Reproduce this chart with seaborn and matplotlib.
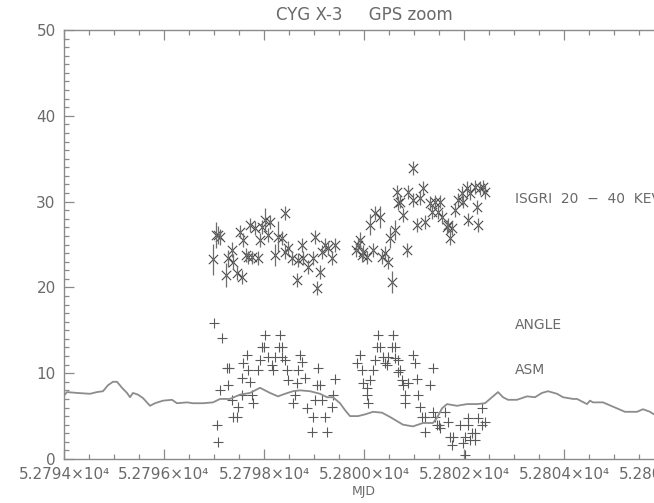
import numpy as np
import pandas as pd
import matplotlib
matplotlib.use("Agg")
import matplotlib.pyplot as plt
from matplotlib.ticker import MultipleLocator, FuncFormatter
import seaborn as sns

# ISGRI 20-40 keV rate (MJD, value, 1-sigma error)
isgri_mjd = [52796.98, 52797.04, 52797.08, 52797.12, 52797.24, 52797.28, 52797.36, 52797.38,
             52797.46, 52797.56, 52797.52, 52797.58, 52797.64, 52797.68, 52797.72, 52797.76,
             52797.82, 52797.88, 52797.92, 52797.96, 52798.02, 52798.08, 52798.12, 52798.22,
             52798.28, 52798.36, 52798.42, 52798.42, 52798.48, 52798.56, 52798.66, 52798.68,
             52798.76, 52798.78, 52798.88, 52798.98, 52799.02, 52799.06, 52799.12, 52799.16,
             52799.22, 52799.28, 52799.36, 52799.42,
             52799.84, 52799.88, 52799.92, 52799.96, 52799.98, 52800.06, 52800.12, 52800.18,
             52800.22, 52800.32, 52800.36, 52800.42, 52800.48, 52800.52, 52800.56, 52800.62,
             52800.66, 52800.68, 52800.72, 52800.78, 52800.86, 52800.88, 52800.98, 52800.98,
             52801.06, 52801.12, 52801.18, 52801.22, 52801.32, 52801.36, 52801.42, 52801.48,
             52801.52, 52801.56, 52801.66, 52801.68, 52801.72, 52801.76, 52801.82, 52801.88,
             52801.96, 52801.98, 52802.06, 52802.08, 52802.12, 52802.22, 52802.26, 52802.28,
             52802.32, 52802.38, 52802.42]
isgri_val = [23.3, 26.1, 26.1, 25.9, 21.4, 23.4, 24.4, 23.0,
             21.7, 21.2, 26.5, 25.5, 23.8, 23.5, 27.3, 23.5,
             26.9, 23.4, 25.5, 27.0, 27.9, 26.1, 27.6, 23.8,
             25.9, 25.8, 28.7, 24.1, 24.6, 23.4, 20.9, 23.2,
             24.9, 23.4, 22.4, 23.4, 25.9, 19.9, 21.8, 24.1,
             24.9, 24.6, 23.4, 24.9,
             24.4, 24.9, 25.5, 23.8, 24.1, 23.5, 27.3, 24.4,
             28.7, 28.2, 23.5, 24.0, 23.0, 25.8, 20.6, 26.7,
             31.1, 29.8, 30.0, 28.4, 24.4, 31.1, 30.2, 33.9,
             27.3, 30.4, 31.6, 27.6, 29.8, 28.8, 30.0, 28.8,
             30.0, 28.2, 27.0, 27.3, 25.8, 26.9, 29.0, 30.2,
             31.0, 30.0, 31.6, 27.9, 31.0, 31.7, 29.4, 27.3,
             31.6, 31.7, 31.1]
isgri_err = [1.8, 1.5, 1.0, 0.9, 1.4, 1.0, 0.9, 0.9,
             0.8, 0.8, 0.8, 0.8, 0.8, 0.8, 0.8, 0.8,
             0.8, 0.8, 0.8, 0.8, 1.3, 0.8, 0.8, 1.3,
             1.8, 0.8, 0.8, 0.8, 0.8, 0.8, 0.8, 0.8,
             0.8, 0.8, 0.8, 0.8, 0.8, 0.8, 0.8, 0.8,
             0.8, 0.8, 0.8, 0.8,
             0.8, 0.8, 1.0, 0.8, 0.8, 0.8, 1.2, 0.8,
             0.8, 1.3, 0.8, 0.8, 0.8, 1.2, 1.3, 1.2,
             0.8, 0.8, 0.8, 0.8, 0.8, 0.8, 0.8, 0.8,
             0.8, 0.8, 0.8, 0.8, 0.8, 0.8, 0.8, 0.8,
             0.8, 0.8, 0.8, 0.8, 0.8, 0.8, 0.8, 0.8,
             0.8, 0.8, 0.8, 0.8, 0.8, 0.8, 0.8, 0.8,
             0.8, 0.8, 0.8]

# Position angle samples
angle_mjd = [52797.00, 52797.16, 52797.26, 52797.30, 52797.12, 52797.28, 52797.06, 52797.08,
             52797.36, 52797.38, 52797.46, 52797.48, 52797.56, 52797.56, 52797.58, 52797.66,
             52797.68, 52797.72, 52797.76, 52797.78, 52797.88, 52797.92, 52797.96, 52798.00,
             52798.02, 52798.08, 52798.16, 52798.18, 52798.22, 52798.32, 52798.30, 52798.36,
             52798.36, 52798.42, 52798.46, 52798.48, 52798.58, 52798.62, 52798.66, 52798.68,
             52798.72, 52798.76, 52798.82, 52798.86, 52798.98, 52799.02, 52798.96, 52799.08,
             52799.06, 52799.12, 52799.16, 52799.22, 52799.26, 52799.36, 52799.38, 52799.42,
             52799.86, 52799.92, 52799.96, 52799.98, 52800.06, 52800.06, 52800.08, 52800.12,
             52800.18, 52800.22, 52800.28, 52800.26, 52800.32, 52800.38, 52800.42, 52800.48,
             52800.58, 52800.56, 52800.62, 52800.62, 52800.68, 52800.46, 52800.68, 52800.72,
             52800.76, 52800.78, 52800.82, 52800.82, 52800.88, 52800.98, 52801.02, 52801.06,
             52801.08, 52801.12, 52801.16, 52801.22, 52801.22, 52801.32, 52801.38, 52801.38,
             52801.42, 52801.46, 52801.50, 52801.52, 52801.62, 52801.68, 52801.72, 52801.78,
             52801.76, 52801.92, 52801.98, 52802.02, 52802.02, 52802.08, 52802.08, 52802.12,
             52802.16, 52802.22, 52802.22, 52802.28, 52802.36, 52802.36, 52802.42]
angle_val = [15.9, 14.1, 10.6, 10.6, 8.0, 8.6, 4.0, 2.0,
             6.9, 4.9, 4.9, 6.1, 7.5, 9.4, 11.2, 12.1,
             10.4, 9.0, 7.5, 6.5, 10.4, 11.5, 13.1, 13.1,
             14.5, 11.9, 11.0, 10.4, 11.9, 14.5, 13.1, 13.1,
             11.9, 11.5, 10.4, 9.2, 6.5, 7.5, 8.9, 10.4,
             12.1, 11.3, 9.4, 5.9, 4.9, 6.9, 3.1, 10.6,
             8.6, 8.6, 6.9, 4.9, 3.1, 6.1, 7.5, 9.3,
             11.2, 12.1, 10.4, 8.9, 8.3, 7.5, 6.5, 9.2,
             10.4, 11.5, 14.5, 13.1, 13.1, 11.9, 11.2, 11.9,
             14.5, 13.1, 13.1, 11.8, 10.1, 11.0, 11.5, 10.4,
             9.2, 8.6, 7.5, 6.5, 8.9, 12.1, 11.2, 9.3,
             7.5, 6.1, 4.9, 4.9, 3.1, 8.6, 10.6, 5.5,
             4.9, 4.0, 4.0, 3.6, 5.5, 4.3, 2.6, 2.6,
             1.6, 4.0, 1.9, 0.5, 2.6, 4.8, 4.0, 2.2,
             3.0, 3.0, 2.2, 4.8, 5.9, 4.0, 4.3]

# RXTE/ASM light curve
asm_mjd = [52794.00, 52794.06, 52794.26, 52794.52, 52794.66, 52794.78, 52794.88, 52794.98,
           52795.06, 52795.16, 52795.26, 52795.32, 52795.38, 52795.48, 52795.58, 52795.72,
           52795.82, 52795.98, 52796.16, 52796.26, 52796.46, 52796.58, 52796.78, 52796.98,
           52797.12, 52797.32, 52797.52, 52797.72, 52797.92, 52798.12, 52798.28, 52798.42,
           52798.58, 52798.72, 52798.92, 52799.12, 52799.26, 52799.38, 52799.52, 52799.62,
           52799.72, 52799.88, 52800.02, 52800.18, 52800.36, 52800.52, 52800.78, 52800.98,
           52801.18, 52801.38, 52801.46, 52801.56, 52801.66, 52801.86, 52802.06, 52802.26,
           52802.42, 52802.56, 52802.68, 52802.78, 52802.88, 52803.06, 52803.26, 52803.42,
           52803.56, 52803.68, 52803.86, 52803.98, 52804.18, 52804.26, 52804.46, 52804.52,
           52804.58, 52804.78, 52804.98, 52805.22, 52805.46, 52805.58, 52805.72, 52805.80,
           52806.00]
asm_val = [7.4, 7.8, 7.7, 7.6, 7.8, 7.9, 8.6, 9.0,
           9.0, 8.3, 7.7, 7.2, 7.7, 7.5, 7.1, 6.2,
           6.5, 6.8, 6.9, 6.5, 6.6, 6.5, 6.5, 6.6,
           7.0, 7.0, 7.5, 7.7, 8.3, 7.7, 7.3, 7.6,
           7.9, 8.0, 7.9, 7.6, 7.2, 7.2, 6.5, 5.7,
           5.0, 5.0, 5.2, 5.5, 5.4, 4.9, 4.0, 3.8,
           4.2, 4.2, 4.8, 5.9, 6.4, 6.2, 6.4, 6.4,
           6.5, 7.2, 7.8, 7.2, 6.9, 6.9, 7.3, 7.2,
           7.7, 7.9, 7.6, 7.2, 7.0, 7.0, 6.4, 6.8,
           6.6, 6.6, 6.1, 5.5, 5.5, 5.8, 5.5, 5.2,
           5.0]

series_labels = ["ISGRI  20  \u2212  40  KEV", "ANGLE", "ASM"]
title_text = "CYG X-3     GPS zoom"
x_label = "MJD"

isgri = pd.DataFrame({"mjd": isgri_mjd, "val": isgri_val, "err": isgri_err})
angle = pd.DataFrame({"mjd": angle_mjd, "val": angle_val})
asm = pd.DataFrame({"mjd": asm_mjd, "val": asm_val})

sns.set_theme(style="ticks")
plt.rcParams["font.family"] = ["DejaVu Sans"]

TEXT = "#6a6a6a"
AXC = "#8a8a8a"

fig = plt.figure(figsize=(6.54, 5.03), dpi=100)
# the plot box runs a little past the right edge of the canvas
ax = fig.add_axes([64 / 654, 44 / 503, 600 / 654, 429 / 503])

# ASM curve
sns.lineplot(data=asm, x="mjd", y="val", ax=ax, color="#8c8c8c", linewidth=1.3,
             estimator=None, sort=False)

# angle samples
sns.scatterplot(data=angle, x="mjd", y="val", ax=ax, marker="+", s=55,
                color="#5a5a5a", linewidth=0.8)

# ISGRI points with vertical error bars
ax.errorbar(isgri["mjd"], isgri["val"], yerr=isgri["err"], fmt="none",
            ecolor="#6e6e6e", elinewidth=0.9, capsize=0)
sns.scatterplot(data=isgri, x="mjd", y="val", ax=ax, marker="x", s=45,
                color="#4a4a4a", linewidth=0.8)

ax.set_xlim(52794, 52806)
ax.set_ylim(0, 50)

ax.xaxis.set_major_locator(MultipleLocator(2))
ax.xaxis.set_minor_locator(MultipleLocator(0.5))
ax.yaxis.set_major_locator(MultipleLocator(10))
ax.yaxis.set_minor_locator(MultipleLocator(1))
ax.xaxis.set_major_formatter(FuncFormatter(lambda v, p: f"{v / 1e4:.4f}\u00d710\u2074"))
ax.yaxis.set_major_formatter(FuncFormatter(lambda v, p: f"{v:.0f}"))

ax.tick_params(which="both", direction="in", top=True, right=True,
               color=AXC, width=0.9, labelcolor=TEXT, labelsize=11)
ax.tick_params(which="major", length=7, pad=6)
ax.tick_params(which="minor", length=3.5)
for sp in ax.spines.values():
    sp.set_color(AXC)
    sp.set_linewidth(1.0)

ax.set_xlabel(x_label, color=TEXT, fontsize=9, labelpad=2)
ax.set_ylabel("")
ax.set_title(title_text, color=TEXT, fontsize=12, pad=7)

label_x = 52803.02
for txt, yv in zip(series_labels, [30.3, 15.6, 10.4]):
    ax.text(label_x, yv, txt, color=TEXT, fontsize=10, va="center", ha="left")

fig.savefig("out.png", dpi=100)
